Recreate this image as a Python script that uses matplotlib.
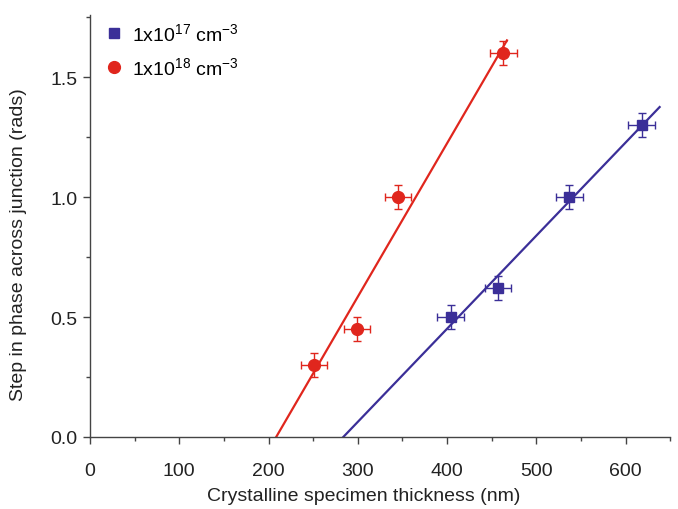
import numpy as np
import matplotlib
matplotlib.use("Agg")
import matplotlib.pyplot as plt
from matplotlib.ticker import MultipleLocator

plt.rcParams['font.family'] = ['Liberation Sans', 'DejaVu Sans']
plt.rcParams['mathtext.fontset'] = 'custom'
plt.rcParams['mathtext.rm'] = 'Liberation Sans'
plt.rcParams['mathtext.it'] = 'Liberation Sans'

# donnees
x_1e17 = [404, 457, 537, 618]
y_1e17 = [0.50, 0.62, 1.00, 1.30]
x_1e18 = [251, 299, 345, 463]
y_1e18 = [0.30, 0.45, 1.00, 1.60]
xerr = 15
yerr = 0.05
label_1e17 = r'1x10$^{\mathrm{17}}$ cm$^{\mathrm{-3}}$'
label_1e18 = r'1x10$^{\mathrm{18}}$ cm$^{\mathrm{-3}}$'

BLEU = '#3b2f98'
ROUGE = '#e0261d'

fig = plt.figure(figsize=(6.78, 5.10), dpi=100)
ax = fig.add_axes([0.1327, 0.1412, 0.856, 0.828])

# ajustement lineaire de chaque serie
p17 = np.polyfit(x_1e17, y_1e17, 1)
p18 = np.polyfit(x_1e18, y_1e18, 1)
xl17 = np.array([-p17[1] / p17[0], 638])
xl18 = np.array([-p18[1] / p18[0], 467])
ax.plot(xl17, np.polyval(p17, xl17), color=BLEU, lw=1.6, zorder=2)
ax.plot(xl18, np.polyval(p18, xl18), color=ROUGE, lw=1.6, zorder=2)

ax.errorbar(x_1e17, y_1e17, xerr=xerr, yerr=yerr, fmt='s', color=BLEU,
            ms=7, elinewidth=1, capsize=3, capthick=1, label=label_1e17, zorder=3)
ax.errorbar(x_1e18, y_1e18, xerr=xerr, yerr=yerr, fmt='o', color=ROUGE,
            ms=8.5, elinewidth=1, capsize=3, capthick=1, label=label_1e18, zorder=3)

ax.set_xlim(0, 650)
ax.set_ylim(0, 1.76)
ax.xaxis.set_major_locator(MultipleLocator(100))
ax.xaxis.set_minor_locator(MultipleLocator(50))
ax.yaxis.set_major_locator(MultipleLocator(0.5))
ax.yaxis.set_minor_locator(MultipleLocator(0.25))
ax.yaxis.set_major_formatter(matplotlib.ticker.FormatStrFormatter('%.1f'))
ax.spines['top'].set_visible(False)
ax.spines['right'].set_visible(False)
for s in ['left', 'bottom']:
    ax.spines[s].set_color('#444444')
    ax.spines[s].set_linewidth(1.0)
ax.tick_params(which='major', direction='out', length=5, width=1,
               color='#444444', labelsize=14, labelcolor='#222222')
ax.tick_params(axis='x', which='major', pad=13)
ax.tick_params(axis='y', which='major', pad=4)
ax.tick_params(which='minor', direction='out', length=3, width=1, color='#444444')

ax.set_xlabel('Crystalline specimen thickness (nm)', fontsize=14, color='#222222')
ax.set_ylabel('Step in phase across junction (rads)', fontsize=14, color='#222222')
ax.xaxis.set_label_coords(0.471, -0.118)
ax.yaxis.set_label_coords(-0.108, 0.457)

h, l = ax.get_legend_handles_labels()
h = [hh[0] for hh in h]
ax.legend(h, l, loc='upper left', frameon=False, fontsize=14, handlelength=0.8,
          handletextpad=0.5, labelspacing=0.62, borderaxespad=0.3,
          bbox_to_anchor=(0.005, 1.015))

fig.savefig('out.png', dpi=100)
